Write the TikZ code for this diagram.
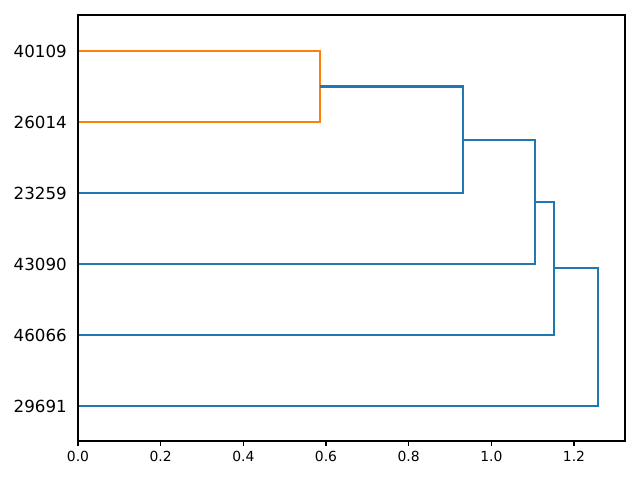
\documentclass[tikz,border=0pt]{standalone}
\usepackage{fontspec}
\setmainfont{DejaVu Sans}
\begin{document}
\begin{tikzpicture}[x=0.72pt,y=-0.72pt,
  orangeline/.style={draw={rgb,255:red,255;green,127;blue,14},line width=1.5pt},
  blueline/.style={draw={rgb,255:red,31;green,119;blue,180},line width=1.5pt},
  ylab/.style={anchor=east,font=\fontsize{12}{14}\selectfont,inner sep=0pt},
  xlab/.style={anchor=north,font=\fontsize{10}{12}\selectfont,inner sep=0pt},
  tickline/.style={draw=black,line width=0.8pt}]
\useasboundingbox (0,0) rectangle (640,480);
% leaves
\coordinate (l1) at (78,51);
\coordinate (l2) at (78,122);
\coordinate (l3) at (78,193);
\coordinate (l4) at (78,264);
\coordinate (l5) at (78,335);
\coordinate (l6) at (78,406);
% merge points
\coordinate (m1a) at (320,51);
\coordinate (m1b) at (320,122);
\coordinate (m1) at (320,86.5);
\coordinate (m2a) at (463,86.5);
\coordinate (m2b) at (463,193);
\coordinate (m2) at (463,139.75);
\coordinate (m3a) at (535,139.75);
\coordinate (m3b) at (535,264);
\coordinate (m3) at (535,201.9);
\coordinate (m4a) at (554,201.9);
\coordinate (m4b) at (554,335);
\coordinate (m4) at (554,268.4);
\coordinate (m5a) at (598,268.4);
\coordinate (m5b) at (598,406);
% dendrogram
\draw[orangeline] (l1) -- (m1a) -- (m1b) -- (l2);
\draw[blueline] (m1) -- (m2a) -- (m2b) -- (l3);
\draw[blueline] (m2) -- (m3a) -- (m3b) -- (l4);
\draw[blueline] (m3) -- (m4a) -- (m4b) -- (l5);
\draw[blueline] (m4) -- (m5a) -- (m5b) -- (l6);
% axes frame
\draw[tickline] (78,15) rectangle (625,441);
% y labels
\node[ylab] (y1) at (67,51) {40109};
\node[ylab] (y2) at (67,122) {26014};
\node[ylab] (y3) at (67,193) {23259};
\node[ylab] (y4) at (67,264) {43090};
\node[ylab] (y5) at (67,335) {46066};
\node[ylab] (y6) at (67,406) {29691};
% x ticks
\foreach \v/\lab [count=\i] in {0/0.0,0.2/0.2,0.4/0.4,0.6/0.6,0.8/0.8,1.0/1.0,1.2/1.2}{
  \pgfmathsetmacro{\px}{78+\v*413.33}
  \draw[tickline] (\px,441) -- (\px,446);
  \node[xlab] (x\i) at (\px,451) {\lab};
}
\end{tikzpicture}
\end{document}
